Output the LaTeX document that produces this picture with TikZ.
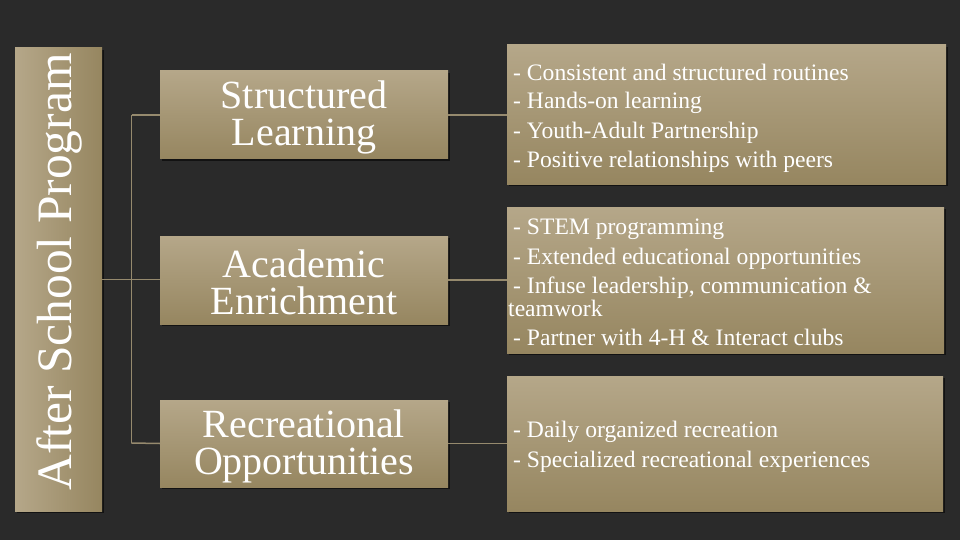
\documentclass[tikz,border=0pt]{standalone}
\usepackage{fontspec}
\setmainfont{Liberation Serif}
\usetikzlibrary{shadows}
\definecolor{bg}{HTML}{2A2A2A}
\definecolor{goldtop}{HTML}{B5A789}
\definecolor{goldbot}{HTML}{968660}
\definecolor{linec}{HTML}{968A6E}
\tikzset{
  goldbox/.style={rectangle, inner sep=0pt, outer sep=0pt, top color=goldtop, bottom color=goldbot, draw=none,
    drop shadow={shadow xshift=1.5pt, shadow yshift=-2pt, opacity=0.55, fill=black}},
  rootbox/.style={rectangle, inner sep=0pt, outer sep=0pt, left color=goldtop, right color=goldbot, draw=none,
    drop shadow={shadow xshift=1.5pt, shadow yshift=-2pt, opacity=0.55, fill=black}},
  midtext/.style={text=white, align=center, font=\fontsize{40}{37}\selectfont},
  listtext/.style={text=white, align=left, inner sep=0pt, font=\fontsize{23.6}{21}\selectfont},
  conn/.style={draw=linec, line width=1.5pt}
}
\begin{document}
\begin{tikzpicture}[x=1pt,y=-1pt]
\fill[bg] (0,0) rectangle (960,540);
\useasboundingbox (0,0) rectangle (960,540);
% root
\node[rootbox, minimum width=87pt, minimum height=463pt] (root) at (58.5,279.5) {};
\node[rotate=90, text=white, font=\fontsize{49.5}{49}\selectfont, inner sep=0pt] (roottxt) at (59,272) {After School Program};
% middle boxes
\node[goldbox, minimum width=288pt, minimum height=88pt] (sl) at (304,115) {};
\node[midtext] (sltxt) at (304,117) {Structured\\Learning};
\node[goldbox, minimum width=288pt, minimum height=88pt] (ae) at (304,280) {};
\node[midtext] (aetxt) at (304,282) {Academic\\Enrichment};
\node[goldbox, minimum width=288pt, minimum height=87pt] (ro) at (304,443.5) {};
\node[midtext] (rotxt) at (304,446) {Recreational\\Opportunities};
% right boxes
\node[goldbox, minimum width=439pt, minimum height=139pt] (r1) at (726.5,114.5) {};
\node[goldbox, minimum width=437pt, minimum height=146pt] (r2) at (725.5,280) {};
\node[goldbox, minimum width=436pt, minimum height=135pt] (r3) at (725,443.5) {};
\node[listtext, anchor=north west] (r1txt) at (508,64) {\hspace*{5pt}- Consistent and structured routines\\[7pt]\hspace*{5pt}- Hands-on learning\\[7pt]\hspace*{5pt}- Youth-Adult Partnership\\[7pt]\hspace*{5pt}- Positive relationships with peers};
\node[listtext, anchor=north west] (r2txt) at (508,219) {\hspace*{5pt}- STEM programming\\[7pt]\hspace*{5pt}- Extended educational opportunities\\[7pt]\hspace*{5pt}- Infuse leadership, communication \&\\teamwork\\[8pt]\hspace*{5pt}- Partner with 4-H \& Interact clubs};
\node[listtext, anchor=north west] (r3txt) at (508,421) {\hspace*{5pt}- Daily organized recreation\\[7pt]\hspace*{5pt}- Specialized recreational experiences};
% connectors
\coordinate (jt) at (131.5,115);
\coordinate (jb) at (131.5,443);
\coordinate (jm) at (131.5,279.5);
\draw[conn] (jt) -- (jb);
\draw[conn] (root.east |- jm) -- (ae.west |- jm);
\draw[conn] (jt) -- (sl.west);
\draw[conn] (jb) -- (ro.west);
\draw[conn] (sl.east) -- (r1.west |- sl.east);
\draw[conn] (ae.east) -- (r2.west |- ae.east);
\draw[conn] (ro.east) -- (r3.west |- ro.east);
\end{tikzpicture}
\end{document}
